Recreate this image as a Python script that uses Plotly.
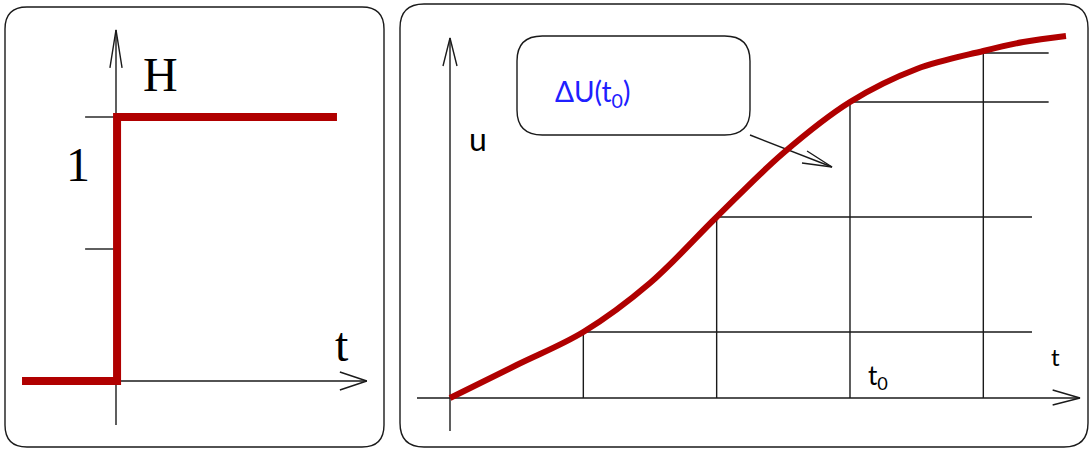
import plotly.graph_objects as go

## Heaviside H(t) (left panel)
h_t = [-0.356, 0.004, 0.004, 0.837]
h_val = [0, 0, 1, 1]
h_ticks = [0.5, 1.0]

## u(t) curve (right panel)
u_t = [0, 0.5, 1.0, 1.5, 2.0, 2.5, 3.0, 3.5, 4.0, 4.3, 4.62]
u_val = [0, 0.33, 0.66, 1.15, 1.81, 2.45, 2.96, 3.29, 3.47, 3.56, 3.62]

## step approximation
step_t = [1, 2, 3, 4]
step_u = [0.66, 1.81, 2.96, 3.45]
step_end = [4.365, 4.365, 4.49, 4.49]

W, H = 1090, 449
RED = "#b00000"
BLK = "#1a1a1a"

fig = go.Figure()

# ---- left panel axes (t, H) ----
lx, ly = [], []
# vertical axis + arrow
lx += [0, 0, None, -0.023, 0, 0.023, None]
ly += [-0.167, 1.33, None, 1.186, 1.33, 1.186, None]
# horizontal axis + arrow
lx += [0, 0.95, None, 0.848, 0.95, 0.848, None]
ly += [0, 0, None, 0.034, 0, -0.034, None]
for v in h_ticks:
    lx += [-0.117, 0, None]
    ly += [v, v, None]
fig.add_trace(go.Scatter(x=lx, y=ly, mode="lines", line=dict(color=BLK, width=1.4),
                         xaxis="x", yaxis="y", hoverinfo="skip"))
fig.add_trace(go.Scatter(x=h_t, y=h_val, mode="lines", line=dict(color=RED, width=8),
                         xaxis="x", yaxis="y"))

# ---- right panel axes (t, u) ----
rx, ry = [], []
rx += [0, 0, None, -0.0525, 0, 0.0525, None]
ry += [-0.33, 3.60, None, 3.32, 3.60, 3.32, None]
rx += [-0.2475, 4.725, None, 4.52, 4.725, 4.52, None]
ry += [0, 0, None, 0.08, 0, -0.07, None]
for t0, u0, te in zip(step_t, step_u, step_end):
    rx += [t0, t0, te, None]
    ry += [0, u0, u0, None]
# callout arrow
rx += [2.25, 2.865, None, 2.678, 2.865, 2.64, None]
ry += [2.63, 2.31, None, 2.47, 2.31, 2.35, None]
fig.add_trace(go.Scatter(x=rx, y=ry, mode="lines", line=dict(color=BLK, width=1.4),
                         xaxis="x2", yaxis="y2", hoverinfo="skip"))
fig.add_trace(go.Scatter(x=u_t, y=u_val, mode="lines", line=dict(color=RED, width=6, shape="spline"),
                         xaxis="x2", yaxis="y2"))


def rrect(x0, y0, x1, y1, rx_, ry_):
    # rounded rectangle path, x0<x1, y0<y1 in the given coordinate system
    return (f"M{x0+rx_},{y0} L{x1-rx_},{y0} Q{x1},{y0} {x1},{y0+ry_} "
            f"L{x1},{y1-ry_} Q{x1},{y1} {x1-rx_},{y1} L{x0+rx_},{y1} "
            f"Q{x0},{y1} {x0},{y1-ry_} L{x0},{y0+ry_} Q{x0},{y0} {x0+rx_},{y0} Z")


def px(x, y):
    return x / W, 1 - y / H

# panel borders (paper coords)
for (a, b, c, d, r) in [(5, 7, 384, 447, 22), (400, 4, 1088, 447, 24)]:
    x0, y1 = px(a, b)
    x1, y0 = px(c, d)
    fig.add_shape(type="path", xref="paper", yref="paper",
                  path=rrect(x0, y0, x1, y1, r / W, r / H),
                  line=dict(color=BLK, width=1.4))

# callout box in right axes coords
fig.add_shape(type="path", xref="x2", yref="y2",
              path=rrect(0.5025, 2.63, 2.25, 3.62, 0.19, 0.25),
              line=dict(color=BLK, width=1.4))

serif = "Liberation Serif"
sans = "Lato"
notes = [
    dict(x=0.17, y=1.16, xref="x", yref="y", text="H", font=dict(family=serif, size=48, color="black")),
    dict(x=-0.145, y=0.82, xref="x", yref="y", text="1", font=dict(family=serif, size=48, color="black")),
    dict(x=0.855, y=0.14, xref="x", yref="y", text="t", font=dict(family=serif, size=48, color="black")),
    dict(x=0.21, y=2.6, xref="x2", yref="y2", text="u", font=dict(family=sans, size=32, color="black")),
    dict(x=1.07, y=3.05, xref="x2", yref="y2", text="ΔU(t<sub>0</sub>)", font=dict(family=sans, size=28, color="#2020ff")),
    dict(x=3.21, y=0.22, xref="x2", yref="y2", text="t<sub>0</sub>", font=dict(family=sans, size=26, color="black")),
    dict(x=4.54, y=0.42, xref="x2", yref="y2", text="t", font=dict(family=sans, size=24, color="black")),
]
for n in notes:
    fig.add_annotation(showarrow=False, xanchor="center", yanchor="middle", **n)

split = 392 / W
fig.update_layout(
    width=W, height=H, margin=dict(l=0, r=0, t=0, b=0),
    plot_bgcolor="white", paper_bgcolor="white", showlegend=False,
    xaxis=dict(domain=[0, split], range=[-116 / 264, (392 - 116) / 264], visible=False),
    yaxis=dict(domain=[0, 1], range=[-(449 - 381) / 264, 381 / 264], visible=False),
    xaxis2=dict(domain=[split, 1], range=[(392 - 450) / 133.33, (1090 - 450) / 133.33], visible=False),
    yaxis2=dict(domain=[0, 1], range=[-0.51, 3.98], visible=False, anchor="x2"),
)
fig.write_html("out.html", config={"displayModeBar": False},
               post_script="document.body.style.margin='0';")
